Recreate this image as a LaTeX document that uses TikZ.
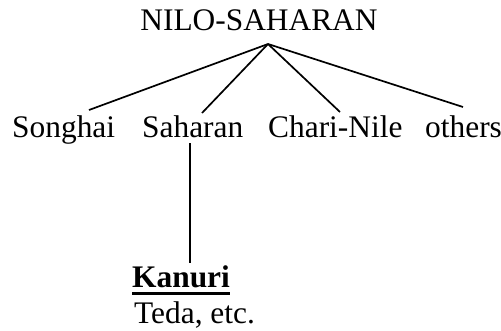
\documentclass[tikz,border=0pt]{standalone}
\usepackage{fontspec}
\setmainfont{Liberation Serif}
\newcommand{\ulbold}[1]{{\bfseries\setbox0\hbox{#1}\rlap{\vrule height -4.6pt depth 7.6pt width \wd0}\box0}}
\begin{document}
\begin{tikzpicture}[x=1pt,y=-1pt,
  lang/.style={anchor=base west,inner sep=0pt,font=\fontsize{31.4}{36}\selectfont},
  branch/.style={line width=1.7pt,line cap=butt}]
\useasboundingbox (0,0) rectangle (501,330);
\node[lang,anchor=base] (root) at (259,30) {NILO-SAHARAN};
\node[lang] (songhai) at (12,137) {Songhai};
\node[lang] (saharan) at (142,137) {Saharan};
\node[lang] (chari) at (268,137) {Chari-Nile};
\node[lang] (others) at (425,137) {others};
\node[lang] (kanuri) at (132,287) {\ulbold{Kanuri}};
\node[lang] (teda) at (134,323) {Teda, etc.};
\coordinate (apex) at (268,44);
\coordinate (s1) at (89,110);
\coordinate (s2) at (202,113);
\coordinate (s3) at (340,112);
\coordinate (s4) at (463,107);
\coordinate (vtop) at (190,143);
\coordinate (vbot) at (190,263);
\draw[branch] (apex) -- (s1);
\draw[branch] (apex) -- (s2);
\draw[branch] (apex) -- (s3);
\draw[branch] (apex) -- (s4);
\draw[branch] (vtop) -- (vbot);
\end{tikzpicture}
\end{document}
